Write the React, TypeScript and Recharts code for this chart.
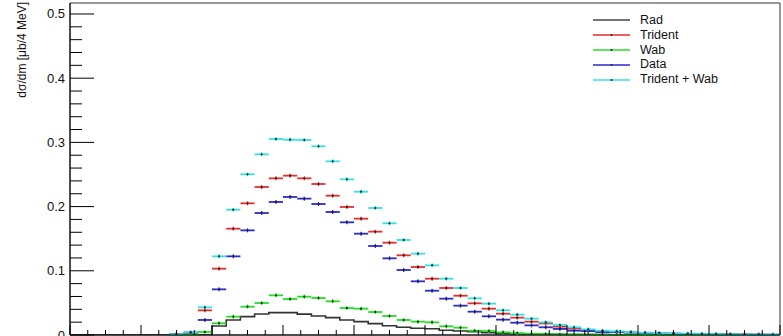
import React from 'react';
import { ComposedChart, Scatter, Line, XAxis, YAxis, ErrorBar, ReferenceArea, Legend } from 'recharts';

// x axis: invariant mass in MeV, 4 MeV bins, 50 bins from 0 to 200 MeV
const BIN_WIDTH = 4;
const FIRST_FILLED_BIN = 7;

// Rad (drawn as step histogram), bins 0..49
const radValues = [
  0, 0, 0, 0, 0, 0, 0, 0, 0, 0,
  0.014, 0.0234, 0.0286, 0.0327, 0.0348, 0.0348, 0.0325, 0.0296, 0.027, 0.0234,
  0.0208, 0.0177, 0.0145, 0.012, 0.0104, 0.0097, 0.0073, 0.0062, 0.0052, 0.0036,
  0.0026, 0.002, 0.0016, 0.0013, 0.001, 0.0008, 0.0007, 0.0006, 0.0005, 0.0004,
  0.0004, 0.0003, 0.0003, 0.0002, 0.0002, 0.0002, 0.0001, 0.0001, 0.0001, 0.0001,
];

// Remaining series, bins 7..49
const tridentValues = [
  0.0008, 0.003, 0.0384, 0.1033, 0.1656, 0.2051, 0.2305, 0.244, 0.2482, 0.244,
  0.2352, 0.217, 0.1994, 0.1812, 0.161, 0.1438, 0.1241, 0.1059, 0.0877, 0.0732,
  0.0612, 0.0493, 0.041, 0.0332, 0.027, 0.0208, 0.018, 0.013, 0.0099, 0.0073,
  0.0055, 0.0048, 0.0038, 0.003, 0.0025, 0.002, 0.0016, 0.0013, 0.001, 0.0008,
  0.0006, 0.0005, 0.0004,
];
const wabValues = [
  0.0002, 0.001, 0.0047, 0.0182, 0.0286, 0.0441, 0.0498, 0.0618, 0.056, 0.0597,
  0.0576, 0.0524, 0.042, 0.041, 0.0358, 0.0296, 0.0234, 0.0208, 0.0197, 0.0135,
  0.0114, 0.0067, 0.0062, 0.0042, 0.003, 0.002, 0.0017, 0.0012, 0.001, 0.0008,
  0.0006, 0.0005, 0.0005, 0.0004, 0.0004, 0.0003, 0.0003, 0.0003, 0.0002, 0.0002,
  0.0002, 0.0001, 0.0001,
];
const dataValues = [
  0.001, 0.004, 0.0234, 0.0711, 0.1225, 0.163, 0.19, 0.2072, 0.215, 0.2124,
  0.204, 0.1916, 0.1755, 0.1578, 0.1386, 0.1194, 0.1012, 0.0836, 0.069, 0.0566,
  0.0457, 0.0363, 0.0291, 0.0239, 0.0192, 0.015, 0.012, 0.0095, 0.0067, 0.006,
  0.0045, 0.0045, 0.004, 0.0032, 0.0028, 0.0022, 0.0018, 0.0015, 0.0012, 0.001,
  0.0008, 0.0006, 0.0005,
];
const tridentWabValues = [
  0.001, 0.004, 0.043, 0.1225, 0.1952, 0.2503, 0.2814, 0.3053, 0.3042, 0.3037,
  0.2939, 0.2705, 0.2425, 0.2232, 0.1978, 0.174, 0.148, 0.1267, 0.1085, 0.0877,
  0.0732, 0.0571, 0.0488, 0.0384, 0.0317, 0.0254, 0.0197, 0.0156, 0.012, 0.0088,
  0.0067, 0.0058, 0.0045, 0.0036, 0.003, 0.0025, 0.002, 0.0016, 0.0013, 0.001,
  0.0008, 0.0006, 0.0005,
];

const yTicks = [
  0, 0.02, 0.04, 0.06, 0.08, 0.1, 0.12, 0.14, 0.16, 0.18, 0.2, 0.22, 0.24, 0.26, 0.28,
  0.3, 0.32, 0.34, 0.36, 0.38, 0.4, 0.42, 0.44, 0.46, 0.48, 0.5,
];
const yMajorLabels: Record<string, string> = {
  '0': '0', '0.1': '0.1', '0.2': '0.2', '0.3': '0.3', '0.4': '0.4', '0.5': '0.5',
};
const xTicks = [
  0, 5, 10, 15, 20, 25, 30, 35, 40, 45, 50, 55, 60, 65, 70, 75, 80, 85, 90, 95, 100,
  105, 110, 115, 120, 125, 130, 135, 140, 145, 150, 155, 160, 165, 170, 175, 180, 185, 190, 195, 200,
];
const X_MAJOR_STEP = 20;
const Y_MAX = 0.5171;
const X_MAX = 200;

const seriesNames = ['Rad', 'Trident', 'Wab', 'Data', 'Trident + Wab'];
const RAD = '#333333';
const RED = '#ec2b2b';
const GREEN = '#22e022';
const BLUE = '#2b2bd2';
const CYAN = '#30e4e4';
const legendColors = ['#444444', RED, GREEN, BLUE, CYAN];

const FONT = "'Liberation Sans', Arial, Helvetica, sans-serif";

const toPoints = (vals: number[]) =>
  vals.map((v, i) => ({ x: (FIRST_FILLED_BIN + i) * BIN_WIDTH + BIN_WIDTH / 2, y: v, ex: BIN_WIDTH / 2 }));

const radData = [
  ...radValues.map((v, i) => ({ x: i * BIN_WIDTH, y: v })),
  { x: radValues.length * BIN_WIDTH, y: radValues[radValues.length - 1] },
];
const tridentData = toPoints(tridentValues);
const wabData = toPoints(wabValues);
const dataData = toPoints(dataValues);
const tridentWabData = toPoints(tridentWabValues);

const YTick = (props: any) => {
  const { x, y, payload } = props;
  const v = payload.value;
  const key = String(Math.round(v * 100) / 100);
  const label = yMajorLabels[key];
  const major = label !== undefined;
  return (
    <g>
      <line x1={x} y1={y} x2={x + (major ? 24 : 12)} y2={y} stroke="#000" strokeWidth={1} />
      {major && (
        <text x={x - 5} y={y} textAnchor="end" dominantBaseline="central" fontSize={13} fontFamily={FONT} fill="#111">
          {label}
        </text>
      )}
    </g>
  );
};

const XTick = (props: any) => {
  const { x, y, payload } = props;
  const major = payload.value % X_MAJOR_STEP === 0;
  return <line x1={x} y1={y} x2={x} y2={y - (major ? 10 : 5)} stroke="#000" strokeWidth={1} />;
};

const YTitle = () => (
  <text
    x={22}
    y={2}
    transform="rotate(-90 22 2)"
    textAnchor="end"
    dominantBaseline="central"
    fontSize={12}
    fontFamily={FONT}
    fill="#111"
  >
    dσ/dm [μb/4 MeV]
  </text>
);

const makeMarker = (color: string) => (props: any) => {
  const { cx, cy } = props;
  if (cx == null || cy == null) return <g />;
  return (
    <g>
      <line x1={cx} x2={cx} y1={cy - 2} y2={cy + 2} stroke={color} strokeWidth={1.2} />
      <circle cx={cx} cy={cy} r={1.1} fill="#222" />
    </g>
  );
};

const LegendContent = () => (
  <div style={{ fontFamily: FONT, fontSize: 12.5, color: '#111' }}>
    {seriesNames.map((name, i) => (
      <div key={name} style={{ display: 'flex', alignItems: 'center', height: 14.8 }}>
        <svg width={44} height={10} style={{ display: 'block' }}>
          <line x1={3} x2={40} y1={5} y2={5} stroke={legendColors[i]} strokeWidth={1.6} />
          {i > 0 && <circle cx={21.5} cy={5} r={1} fill="#222" />}
        </svg>
        <span style={{ marginLeft: 6, lineHeight: '14.8px', whiteSpace: 'nowrap' }}>{name}</span>
      </div>
    ))}
  </div>
);

const scatterSeries = [
  { name: 'Trident', data: tridentData, color: RED },
  { name: 'Wab', data: wabData, color: GREEN },
  { name: 'Data', data: dataData, color: BLUE },
  { name: 'Trident + Wab', data: tridentWabData, color: CYAN },
];

export default function App() {
  return (
    <div style={{ position: 'absolute', left: 0, top: 0, width: 783, height: 336, overflow: 'hidden', background: '#fff' }}>
      <ComposedChart width={783} height={336} margin={{ top: 3, right: 3, left: 0, bottom: 0 }}>
        <XAxis
          type="number"
          dataKey="x"
          domain={[0, X_MAX]}
          ticks={xTicks}
          interval={0}
          allowDataOverflow
          height={1}
          tickSize={0}
          tickMargin={0}
          tickLine={false}
          tick={<XTick />}
          axisLine={{ stroke: '#000', strokeWidth: 1 }}
        />
        <YAxis
          type="number"
          dataKey="y"
          domain={[0, Y_MAX]}
          ticks={yTicks}
          interval={0}
          allowDataOverflow
          width={70}
          tickSize={0}
          tickMargin={0}
          tickLine={false}
          tick={<YTick />}
          axisLine={{ stroke: '#000', strokeWidth: 1 }}
          label={<YTitle />}
        />
        <ReferenceArea x1={0} x2={X_MAX} y1={0} y2={Y_MAX} fill="none" fillOpacity={0} stroke="#333" strokeWidth={1} />
        <Line
          data={radData}
          dataKey="y"
          type="stepAfter"
          stroke={RAD}
          strokeWidth={1.6}
          dot={false}
          activeDot={false}
          isAnimationActive={false}
          name="Rad"
        />
        {scatterSeries.map((s) => (
          <Scatter
            key={s.name}
            name={s.name}
            data={s.data}
            dataKey="y"
            fill={s.color}
            shape={makeMarker(s.color)}
            isAnimationActive={false}
          >
            <ErrorBar dataKey="ex" direction="x" width={0} stroke={s.color} strokeWidth={1.8} isAnimationActive={false} />
          </Scatter>
        ))}
        <Legend
          layout="vertical"
          align="center"
          verticalAlign="middle"
          content={<LegendContent />}
          wrapperStyle={{ left: 590, top: 13, width: 160, height: 80 }}
        />
      </ComposedChart>
    </div>
  );
}
